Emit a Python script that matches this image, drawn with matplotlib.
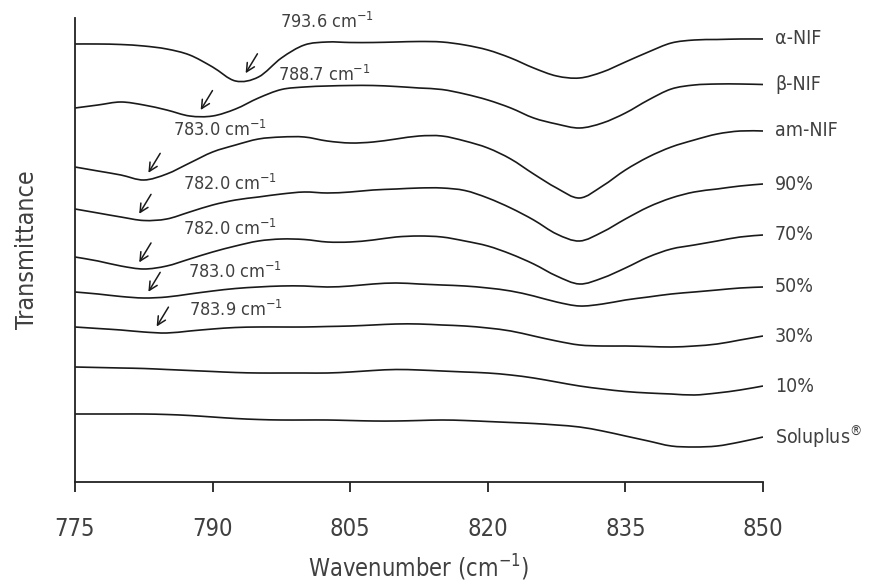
import numpy as np
import matplotlib
matplotlib.use('Agg')
import matplotlib.pyplot as plt
from matplotlib.path import Path
from matplotlib.patches import PathPatch

# wavenumber grid (cm-1)
wavenumber = [775, 777.5, 780, 782.5, 785, 787.5, 790, 792.5, 795, 797.5,
              800, 802.5, 805, 807.5, 810, 812.5, 815, 817.5, 820, 822.5,
              825, 827.5, 830, 832.5, 835, 837.5, 840, 842.5, 845, 847.5, 850]

# transmittance, arbitrary units, already stacked
alpha_nif = [438, 438, 437.5, 436, 433, 427, 415, 401, 405, 424,
             437, 440, 439.5, 439.5, 440, 440.5, 440, 437, 432, 424,
             414, 406, 404, 410, 420, 430, 439, 442, 442.5, 443, 443]
beta_nif = [374, 377, 380, 377, 372, 366, 366, 373, 384, 392.5,
            395, 396, 396.5, 396.5, 395.5, 394, 392.5, 388, 382, 374,
            364, 358, 354, 359, 369, 382, 393, 397, 398, 398, 397.5]
am_nif = [315, 311, 307, 302, 308, 319, 330, 337, 343, 345,
          345, 341, 339, 340, 343, 346, 346, 341, 334, 323,
          308, 294, 284, 296, 312, 325, 335, 342, 348, 351, 351]
sd_90 = [273, 269, 265, 261.5, 263, 270, 277, 282, 285, 288,
         290, 289, 290, 292, 293, 294, 294, 291.5, 284, 274,
         262, 248, 241, 250, 263, 275, 284, 290, 293, 296, 298]
sd_70 = [225, 221, 216, 213, 216, 223, 230, 236, 241, 243,
         242.5, 240, 240, 242, 245, 246, 245, 241, 236, 228,
         218, 206, 198, 204, 214, 225, 233, 237, 241, 245, 247]
sd_50 = [190, 188, 185.5, 184, 185, 188, 191, 193.5, 195, 196,
         196, 195, 196, 198, 199, 198, 197, 196, 194, 191,
         186, 180, 176, 178, 182, 185, 188, 190, 192, 194, 195]
sd_30 = [155, 153.5, 152, 150, 149, 151, 153, 154.5, 155, 155,
         155, 155.5, 156, 157, 158, 158, 157, 156, 154, 151,
         146, 141, 137, 136, 136, 135.5, 135, 136, 138, 142, 146]
sd_10 = [115, 114.5, 114, 113.5, 112.5, 111.5, 110.5, 109.5, 109, 109,
         109, 109, 110, 111.5, 112.5, 112, 111, 110, 109, 107,
         104, 100, 96, 93, 90.5, 89, 88, 87, 89, 92, 96]
soluplus = [68, 68, 68, 68, 67.5, 66.5, 65, 63.5, 62.5, 62,
            62, 62, 61.5, 61, 61, 61.5, 62, 61.5, 60.5, 59.5,
            58.5, 57, 55, 51, 46, 41, 36, 35, 36, 40, 45]

series = [alpha_nif, beta_nif, am_nif, sd_90, sd_70, sd_50, sd_30, sd_10, soluplus]
names = ['α-NIF', 'β-NIF', 'am-NIF', '90%', '70%', '50%', '30%', '10%', 'Soluplus$^{®}$']

# marked bands: which curve, wavenumber
peak_curve = [0, 1, 2, 3, 4, 5, 6]
peak_wn = [793.6, 788.7, 783.0, 782.0, 782.0, 783.0, 783.9]
# where each band label sits
peak_text_x = [797.4, 797.1, 785.7, 786.8, 786.8, 787.3, 787.4]
peak_text_y = [460, 407, 352, 298, 253, 210, 172]

plt.rcParams['font.family'] = ['DejaVu Sans']
plt.rcParams['font.stretch'] = 'condensed'
plt.rcParams['mathtext.default'] = 'regular'
txt = '#404040'


def smooth_path(x, y):
    # smoothed line like the spreadsheet one: bezier through every point
    p = np.column_stack([x, y]).astype(float)
    verts = [p[0]]
    codes = [Path.MOVETO]
    n = len(p)
    for i in range(n - 1):
        p0 = p[max(i - 1, 0)]
        p3 = p[min(i + 2, n - 1)]
        c1 = p[i] + (p[i + 1] - p0) / 6
        c2 = p[i + 1] - (p3 - p[i]) / 6
        verts += [c1, c2, p[i + 1]]
        codes += [Path.CURVE4] * 3
    return Path(verts, codes)


fig = plt.figure(figsize=(8.72, 5.85), dpi=100)
ax = fig.add_axes([75 / 872, 1 - 482 / 585, 688 / 872, 464 / 585])

for ys, name in zip(series, names):
    ax.add_patch(PathPatch(smooth_path(wavenumber, ys), fill=False,
                           edgecolor='#1a1a1a', lw=1.2))
    ax.text(851.3, ys[-1], name, fontsize=14, color=txt, va='center', ha='left')

for c, wn, tx, ty in zip(peak_curve, peak_wn, peak_text_x, peak_text_y):
    y_tip = np.interp(wn, wavenumber, series[c]) + 6
    ax.annotate('', xy=(wn, y_tip), xytext=(8.5, 14), textcoords='offset points',
                arrowprops=dict(arrowstyle='->', color='#1a1a1a', lw=1.1,
                                shrinkA=0, shrinkB=0, mutation_scale=15))
    ax.text(tx, ty, f'{wn:.1f} cm$^{{-1}}$', fontsize=13, color=txt,
            ha='left', va='center')

ax.set_xlim(775, 850)
ax.set_ylim(0, 464)
ax.set_xticks([775, 790, 805, 820, 835, 850])
ax.set_yticks([])
ax.spines['top'].set_visible(False)
ax.spines['right'].set_visible(False)
for s in ['left', 'bottom']:
    ax.spines[s].set_linewidth(1.3)
    ax.spines[s].set_color('#222222')
ax.tick_params(axis='x', direction='out', length=7, width=1.3, color='#222222',
               labelsize=17, labelcolor=txt, pad=18)
ax.set_xlabel('Wavenumber (cm$^{-1}$)', fontsize=17, color=txt, labelpad=9)
ax.set_ylabel('Transmittance', fontsize=18, color=txt, labelpad=26)

fig.savefig('out.png', dpi=100)
